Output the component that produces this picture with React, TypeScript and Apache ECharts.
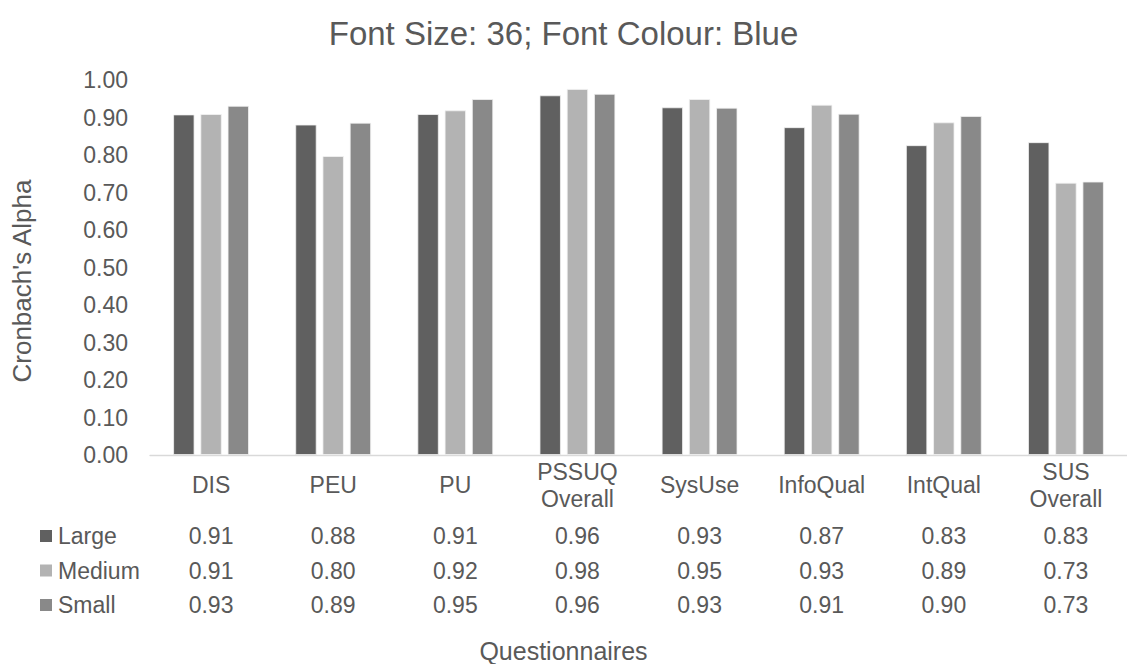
import React, { useEffect, useRef } from 'react';
import * as echarts from 'echarts';

const categories = ['DIS', 'PEU', 'PU', 'PSSUQ\nOverall', 'SysUse', 'InfoQual', 'IntQual', 'SUS\nOverall'];
const seriesNames = ['Large', 'Medium', 'Small'];
const largeValues = [0.908, 0.881, 0.909, 0.959, 0.927, 0.874, 0.826, 0.834];
const mediumValues = [0.909, 0.797, 0.919, 0.976, 0.949, 0.934, 0.887, 0.726];
const smallValues = [0.931, 0.886, 0.949, 0.963, 0.926, 0.910, 0.904, 0.729];
const seriesColors = ['#606060', '#b3b3b3', '#898989'];
const yMin = 0;
const yMax = 1;
const yInterval = 0.1;
const titleText = 'Font Size: 36; Font Colour: Blue';
const yAxisTitle = "Cronbach's Alpha";
const xAxisTitle = 'Questionnaires';

const FONT = "'Liberation Sans', Arial, sans-serif";
const TEXT = '#595959';

export default function App() {
  const ref = useRef<HTMLDivElement>(null);
  useEffect(() => {
    if (!ref.current) return;
    const chart = echarts.init(ref.current, null, { renderer: 'svg' });
    const allValues = [largeValues, mediumValues, smallValues];
    chart.setOption({
      animation: false,
      backgroundColor: '#ffffff',
      textStyle: { fontFamily: FONT, color: TEXT },
      grid: { left: 150, right: 0, top: 80, bottom: 209, containLabel: false },
      xAxis: {
        type: 'category',
        data: categories,
        axisLine: { show: true, lineStyle: { color: '#d9d9d9', width: 1.3 } },
        axisTick: { show: false },
        axisLabel: {
          interval: 0,
          margin: 30,
          verticalAlign: 'middle',
          fontSize: 23,
          lineHeight: 27,
          color: TEXT,
          fontFamily: FONT,
        },
      },
      yAxis: {
        type: 'value',
        min: yMin,
        max: yMax,
        interval: yInterval,
        splitLine: { show: false },
        axisLine: { show: false },
        axisTick: { show: false },
        axisLabel: {
          margin: 22,
          fontSize: 23,
          color: TEXT,
          fontFamily: FONT,
          formatter: (v: number) => v.toFixed(2),
        },
      },
      series: seriesNames.map((name, s) => ({
        name,
        type: 'bar',
        data: allValues[s],
        barCategoryGap: '38%',
        barGap: '28%',
        itemStyle: { color: seriesColors[s], borderColor: '#f2f2f2', borderWidth: 0.8 },
      })),
    });

    const graphics: any[] = [];
    graphics.push({
      type: 'text',
      x: 563.5,
      y: 33,
      style: { text: titleText, fontSize: 33, fontFamily: FONT, fill: TEXT, align: 'center', verticalAlign: 'middle' },
    });
    graphics.push({
      type: 'text',
      x: 22,
      y: 281,
      rotation: Math.PI / 2,
      style: { text: yAxisTitle, fontSize: 26, fontFamily: FONT, fill: TEXT, align: 'center', verticalAlign: 'middle' },
    });
    graphics.push({
      type: 'text',
      x: 563.5,
      y: 651,
      style: { text: xAxisTitle, fontSize: 25, fontFamily: FONT, fill: TEXT, align: 'center', verticalAlign: 'middle' },
    });
    const rowY = [536, 570.5, 605];
    seriesNames.forEach((name, s) => {
      graphics.push({
        type: 'rect',
        shape: { x: 40, y: rowY[s] - 6, width: 12, height: 12 },
        style: { fill: seriesColors[s] },
      });
      graphics.push({
        type: 'text',
        x: 58,
        y: rowY[s],
        style: { text: name, fontSize: 23, fontFamily: FONT, fill: TEXT, align: 'left', verticalAlign: 'middle' },
      });
      categories.forEach((_, i) => {
        const px = chart.convertToPixel({ xAxisIndex: 0 }, i) as number;
        graphics.push({
          type: 'text',
          x: px,
          y: rowY[s],
          style: {
            text: allValues[s][i].toFixed(2),
            fontSize: 23,
            fontFamily: FONT,
            fill: TEXT,
            align: 'center',
            verticalAlign: 'middle',
          },
        });
      });
    });
    chart.setOption({ graphic: graphics });
    return () => chart.dispose();
  }, []);
  return (
    <div
      ref={ref}
      style={{ position: 'fixed', left: 0, top: 0, width: 1127, height: 664, background: '#ffffff' }}
    />
  );
}
